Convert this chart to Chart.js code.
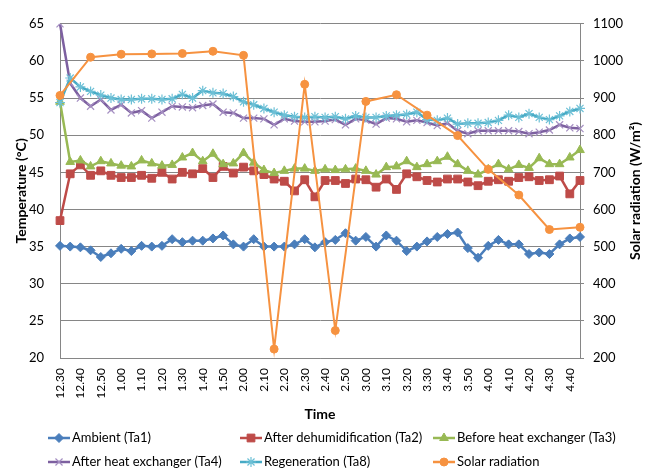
<!DOCTYPE html>
<html>
<head>
<meta charset="utf-8">
<script src="https://cdn.jsdelivr.net/npm/chart.js"></script>
<style>
  body { margin: 0; background: #fff; }
</style>
</head>
<body>
<canvas id="grafico" width="654" height="470"></canvas>
<script>
// categorias: leituras a cada 5 minutos, rotulos mostrados a cada 10
var horarios = ["12.30","12.35","12.40","12.45","12.50","12.55","1.00","1.05","1.10","1.15","1.20","1.25",
  "1.30","1.35","1.40","1.45","1.50","1.55","2.00","2.05","2.10","2.15","2.20","2.25","2.30","2.35",
  "2.40","2.45","2.50","2.55","3.00","3.05","3.10","3.15","3.20","3.25","3.30","3.35","3.40","3.45",
  "3.50","3.55","4.00","4.05","4.10","4.15","4.20","4.25","4.30","4.35","4.40","4.45"];

var ambiente = [35.1,35.0,34.9,34.5,33.6,34.1,34.7,34.4,35.1,35.0,35.1,36.0,35.6,35.8,35.8,36.1,36.5,35.3,35.0,36.0,
  35.0,35.0,35.0,35.3,36.0,34.9,35.6,35.9,36.8,35.8,36.3,35.0,36.5,35.8,34.4,35.0,35.7,36.3,36.7,36.9,
  34.8,33.5,35.1,35.9,35.3,35.3,34.0,34.2,34.0,35.3,36.1,36.3];

var desumidificacao = [38.5,44.8,46.0,44.6,45.2,44.6,44.3,44.3,44.6,44.2,45.0,44.1,45.0,44.8,45.5,44.3,45.8,44.9,45.7,45.2,
  44.7,44.1,43.8,42.5,44.0,41.7,43.9,43.9,43.5,44.1,44.0,43.0,44.1,42.7,44.8,44.4,43.9,43.7,44.1,44.1,
  43.7,43.2,43.8,44.0,43.8,44.3,44.4,43.9,44.0,44.5,42.1,43.9];

var antesTrocador = [54.5,46.4,46.6,45.8,46.5,46.2,45.9,45.8,46.6,46.2,45.9,46.0,47.0,47.6,46.5,47.5,46.1,46.2,47.6,46.3,
  45.3,44.9,45.2,45.5,45.5,45.2,45.4,45.3,45.4,45.5,45.2,44.7,45.7,45.8,46.5,45.7,46.1,46.5,47.1,46.1,
  45.2,44.7,45.4,46.1,45.4,46.0,45.6,46.9,46.1,46.1,47.0,48.0];

var depoisTrocador = [65.0,57.0,55.0,53.9,54.8,53.4,54.1,53.0,53.3,52.3,53.1,53.9,53.8,53.7,54.0,54.2,53.1,53.0,52.3,52.3,
  52.2,51.4,52.2,51.9,51.8,51.8,51.9,52.1,51.4,52.2,52.0,51.5,52.3,52.2,51.8,52.0,51.7,51.3,51.6,50.6,
  50.2,50.6,50.6,50.6,50.6,50.5,50.2,50.4,50.7,51.4,51.0,50.9];

var regeneracao = [54.4,57.7,56.5,55.9,55.4,55.0,54.8,54.8,54.9,54.9,54.8,54.9,55.5,55.0,56.0,55.7,55.6,55.2,54.5,54.1,
  53.6,53.1,52.7,52.5,52.4,52.5,52.4,52.5,52.2,52.6,52.4,52.4,52.6,52.7,52.8,53.1,52.1,52.0,52.3,51.5,
  51.6,51.6,51.7,52.0,52.7,52.4,52.9,52.4,52.1,52.6,53.2,53.6];

// radiacao solar: uma leitura a cada 15 minutos
var radiacao = [907,null,null,1010,null,null,1018,null,null,1019,null,null,1020,null,null,1026,null,null,
  1015,null,null,224,null,null,937,null,null,274,null,null,891,null,null,909,null,null,
  854,null,null,799,null,null,708,null,null,639,null,null,546,null,null,552];

Chart.defaults.font.family = "Lato";
Chart.defaults.font.size = 13;
Chart.defaults.color = "#000";

var corGrade = "#868686";

// legenda em 3 colunas e titulo do eixo direito, desenhados a mao
var extras = {
  id: "extras",
  afterDraw: function (chart) {
    var ctx = chart.ctx;
    var area = chart.chartArea;

    ctx.save();
    ctx.font = "bold 14px Lato";
    ctx.fillStyle = "#000";
    ctx.textAlign = "center";
    ctx.textBaseline = "middle";
    ctx.translate(635, (area.top + area.bottom) / 2);
    ctx.rotate(-Math.PI / 2);
    ctx.fillText("Solar radiation (W/m\u00B2)", 0, 0);
    ctx.restore();

    var colunas = [48, 240, 433];
    var linhas = [438, 462];
    chart.data.datasets.forEach(function (ds, i) {
      var x = colunas[i % 3];
      var y = linhas[Math.floor(i / 3)];
      ctx.save();
      ctx.strokeStyle = ds.borderColor;
      ctx.lineWidth = 2.5;
      ctx.beginPath();
      ctx.moveTo(x, y);
      ctx.lineTo(x + 22, y);
      ctx.stroke();
      ctx.fillStyle = ds.backgroundColor;
      ctx.strokeStyle = ds.pointBorderColor || ds.borderColor;
      ctx.lineWidth = ds.pointBorderWidth || 1;
      if (Chart.helpers && Chart.helpers.drawPoint) {
        Chart.helpers.drawPoint(ctx, {
          pointStyle: ds.pointStyle, radius: ds.pointRadius, rotation: 0,
          borderWidth: ds.pointBorderWidth || 1
        }, x + 11, y);
      }
      ctx.fillStyle = "#000";
      ctx.font = "13px Lato";
      ctx.textAlign = "left";
      ctx.textBaseline = "middle";
      ctx.fillText(ds.label, x + 24, y);
      ctx.restore();
    });
  }
};

var dados = {
  labels: horarios,
  datasets: [
    {
      label: "Ambient (Ta1)",
      data: ambiente,
      borderColor: "#4A7EBB",
      backgroundColor: "#4A7EBB",
      borderWidth: 2.5,
      pointStyle: "rectRot",
      pointRadius: 4.5,
      pointBorderWidth: 1,
      order: 6
    },
    {
      label: "After dehumidification (Ta2)",
      data: desumidificacao,
      borderColor: "#BE4B48",
      backgroundColor: "#BE4B48",
      borderWidth: 2.5,
      pointStyle: "rect",
      pointRadius: 5.5,
      pointBorderWidth: 1,
      order: 5
    },
    {
      label: "Before heat exchanger (Ta3)",
      data: antesTrocador,
      borderColor: "#98B954",
      backgroundColor: "#98B954",
      borderWidth: 2.5,
      pointStyle: "triangle",
      pointRadius: 5,
      pointBorderWidth: 1,
      order: 4
    },
    {
      label: "After heat exchanger (Ta4)",
      data: depoisTrocador,
      borderColor: "#7D60A0",
      backgroundColor: "#7D60A0",
      pointBorderColor: "#A58FC2",
      borderWidth: 2.5,
      pointStyle: "crossRot",
      pointRadius: 5,
      pointBorderWidth: 1.2,
      order: 3
    },
    {
      label: "Regeneration (Ta8)",
      data: regeneracao,
      borderColor: "#46AAC5",
      backgroundColor: "#46AAC5",
      pointBorderColor: "#6DC0D6",
      borderWidth: 2.5,
      pointStyle: "star",
      pointRadius: 5,
      pointBorderWidth: 1.2,
      order: 2
    },
    {
      label: "Solar radiation",
      data: radiacao,
      yAxisID: "y1",
      spanGaps: true,
      borderColor: "#F69240",
      backgroundColor: "#F69240",
      borderWidth: 2,
      pointStyle: "circle",
      pointRadius: 4,
      pointBorderWidth: 1,
      order: 1
    }
  ]
};

new Chart(document.getElementById("grafico").getContext("2d"), {
  type: "line",
  data: dados,
  plugins: [extras],
  options: {
    responsive: false,
    animation: false,
    layout: { padding: { top: 18, left: 0, right: 0, bottom: 0 } },
    plugins: {
      legend: { display: false },
      tooltip: { enabled: false }
    },
    scales: {
      x: {
        grid: { display: false, drawTicks: false },
        border: { display: true, color: corGrade },
        ticks: {
          autoSkip: false, maxRotation: 90, minRotation: 90, padding: 10,
          font: { size: 12 },
          callback: function (v, i) { return i % 2 === 0 ? this.getLabelForValue(v) : ""; }
        },
        title: { display: true, text: "Time", font: { size: 14, weight: "bold" }, padding: { top: 0, bottom: 47 } },
        afterFit: function (s) { s.height = 112; }
      },
      y: {
        position: "left",
        min: 20,
        max: 65,
        ticks: { stepSize: 5, padding: 16, callback: function (v) { return String(v); } },
        grid: { color: corGrade, drawTicks: false },
        border: { color: corGrade },
        title: { display: true, text: "Temperature (\u00B0C)", font: { size: 14, weight: "bold" }, padding: { top: 13, bottom: 0 } },
        afterFit: function (s) { s.width = 60; }
      },
      y1: {
        position: "right",
        min: 200,
        max: 1100,
        ticks: { stepSize: 100, padding: 9, callback: function (v) { return String(v); } },
        grid: { drawOnChartArea: false, color: corGrade, tickLength: 4 },
        border: { color: corGrade },
        afterFit: function (s) { s.width = 74; }
      }
    }
  }
});
</script>
</body>
</html>
